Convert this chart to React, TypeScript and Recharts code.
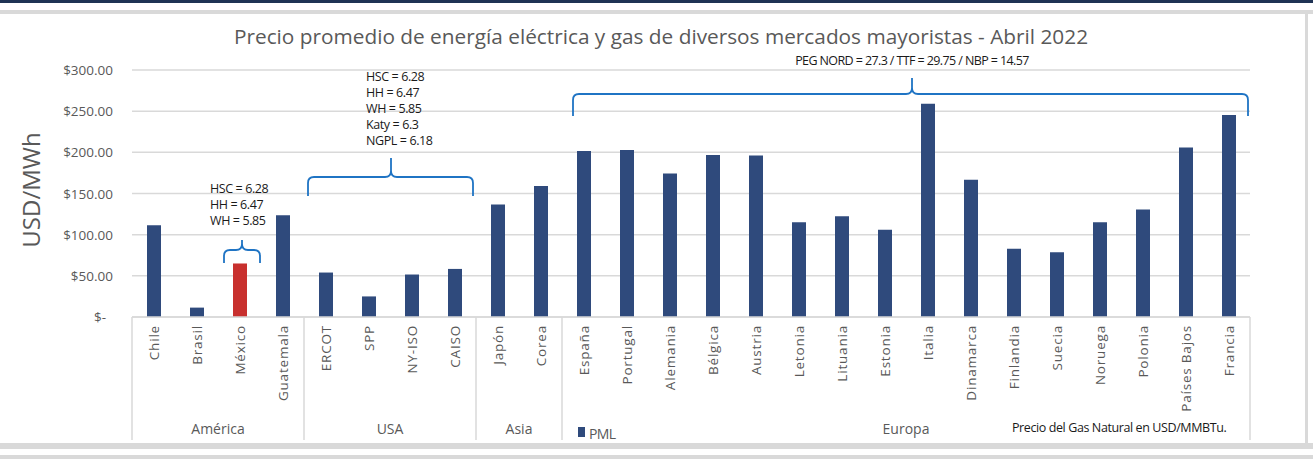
import { BarChart, Bar, XAxis, YAxis, CartesianGrid, Cell } from "recharts";

const CATEGORIES = [
  "Chile", "Brasil", "México", "Guatemala",
  "ERCOT", "SPP", "NY-ISO", "CAISO",
  "Japón", "Corea",
  "España", "Portugal", "Alemania", "Bélgica", "Austria", "Letonia", "Lituania", "Estonia",
  "Italia", "Dinamarca", "Finlandia", "Suecia", "Noruega", "Polonia", "Países Bajos", "Francia",
];
const GROUP_NAMES = ["América", "USA", "Asia", "Europa"];
const GROUP_SIZES = [4, 4, 2, 16];
const PML = [
  111.5, 11.4, 65, 123.7,
  54, 25, 51.6, 58.4,
  136.7, 159,
  201.6, 202.8, 174.4, 196.7, 196.3, 115, 122.5, 106,
  259, 166.7, 83, 78.7, 115, 130.6, 206, 245.4,
];
const Y_TICKS = [0, 50, 100, 150, 200, 250, 300];
const HIGHLIGHT = "México";

const MEXICO_GAS = ["HSC = 6.28", "HH = 6.47", "WH = 5.85"];
const USA_GAS = ["HSC = 6.28", "HH = 6.47", "WH = 5.85", "Katy = 6.3", "NGPL = 6.18"];
const EUROPE_GAS = "PEG NORD = 27.3 / TTF = 29.75 / NBP = 14.57";

const NAVY = "#2f4a7c";
const RED = "#c8302e";
const GREY = "#595959";
const LINE = "#d9d9d9";
const BRACE = "#1f74c4";
const FONT = "'Open Sans', sans-serif";

const W = 1313;
const H = 459;
const PLOT_L = 132;
const PLOT_R = 1250;
const PLOT_T = 70;
const X_AXIS_H = 142;
const PLOT_B = H - X_AXIS_H;
const BW = (PLOT_R - PLOT_L) / CATEGORIES.length;

const data = CATEGORIES.map((name, i) => ({ name, pml: PML[i] }));

// first index of every group
const groupStarts: number[] = [];
GROUP_SIZES.reduce((acc, n) => {
  groupStarts.push(acc);
  return acc + n;
}, 0);

const catX = (i: number) => PLOT_L + (i + 0.5) * BW;

function YTick(props: any) {
  const { y, payload } = props;
  const v = payload.value as number;
  const label = v === 0 ? "$-" : `$${v.toFixed(2)}`;
  return (
    <text
      x={PLOT_L - 19 - (v === 0 ? 7 : 0)}
      y={y}
      textAnchor="end"
      dominantBaseline="central"
      fontSize={13.5}
      fill={GREY}
      fontFamily={FONT}
    >
      {label}
    </text>
  );
}

function XTick(props: any) {
  const { x, payload } = props;
  const i = payload.index as number;
  const g = groupStarts.indexOf(i);
  const last = i === CATEGORIES.length - 1;
  return (
    <g>
      <text
        transform={`translate(${x},${PLOT_B + 8}) rotate(-90)`}
        textAnchor="end"
        dominantBaseline="central"
        fontSize={13.5}
        letterSpacing={0.8}
        fill={GREY}
        fontFamily={FONT}
      >
        {payload.value}
      </text>
      {g >= 0 && (
        <>
          <line x1={x - BW / 2} x2={x - BW / 2} y1={PLOT_B} y2={440} stroke={LINE} strokeWidth={1.5} />
          <text
            x={x - BW / 2 + (GROUP_SIZES[g] * BW) / 2}
            y={428}
            textAnchor="middle"
            dominantBaseline="central"
            fontSize={14}
            fill={GREY}
            fontFamily={FONT}
          >
            {GROUP_NAMES[g]}
          </text>
        </>
      )}
      {last && <line x1={x + BW / 2} x2={x + BW / 2} y1={PLOT_B} y2={440} stroke={LINE} strokeWidth={1.5} />}
    </g>
  );
}

function bracePath(x1: number, x2: number, mid: number, yTop: number, yH: number, yEnd: number) {
  const r = Math.min(6, yEnd - yH, yH - yTop);
  return (
    `M${x1},${yEnd} L${x1},${yH + r} Q${x1},${yH} ${x1 + r},${yH} L${mid - r},${yH} ` +
    `Q${mid},${yH} ${mid},${yH - r} L${mid},${yTop} M${mid},${yH - r} Q${mid},${yH} ${mid + r},${yH} ` +
    `L${x2 - r},${yH} Q${x2},${yH} ${x2},${yH + r} L${x2},${yEnd}`
  );
}

function Annotations() {
  const note = { fontSize: 12.5, fill: "#1a1a1a", fontFamily: FONT, letterSpacing: -0.4 };
  const mx = catX(2);
  return (
    <svg width={W} height={H} style={{ position: "absolute", left: 0, top: 0, pointerEvents: "none" }}>
      <text x={661} y={44} textAnchor="middle" fontSize={20.8} fill={GREY} fontFamily={FONT}>
        Precio promedio de energía eléctrica y gas de diversos mercados mayoristas - Abril 2022
      </text>
      <text
        transform="translate(30,190) rotate(-90)"
        textAnchor="middle"
        dominantBaseline="central"
        fontSize={24}
        fill={GREY}
        fontFamily={FONT}
      >
        USD/MWh
      </text>

      {MEXICO_GAS.map((t, k) => (
        <text key={t} x={210} y={188 + k * 16.4} dominantBaseline="central" {...note}>
          {t}
        </text>
      ))}
      <path d={bracePath(mx - 15.5, mx + 20.5, mx + 2.5, 240, 250, 263)} stroke={BRACE} strokeWidth={1.8} fill="none" />

      {USA_GAS.map((t, k) => (
        <text key={t} x={366} y={76 + k * 16.2} dominantBaseline="central" {...note}>
          {t}
        </text>
      ))}
      <path d={bracePath(catX(4) - 17.5, catX(7) + 18.5, 391, 158, 177, 196)} stroke={BRACE} strokeWidth={1.8} fill="none" />

      <text x={912} y={60} textAnchor="middle" dominantBaseline="central" {...note} letterSpacing={-0.6}>
        {EUROPE_GAS}
      </text>
      <path d={bracePath(catX(10) - 10.5, PLOT_R - 2, 912, 78, 94, 116)} stroke={BRACE} strokeWidth={1.8} fill="none" />

      <rect x={578} y={427} width={7} height={10} fill={NAVY} />
      <text x={589} y={433} dominantBaseline="central" fontSize={14} fill={GREY} fontFamily={FONT} letterSpacing={-0.6}>
        PML
      </text>
      <text x={1012} y={427} dominantBaseline="central" {...note}>
        Precio del Gas Natural en USD/MMBTu.
      </text>
    </svg>
  );
}

export default function App() {
  return (
    <div style={{ position: "absolute", left: 0, top: 0, width: W, height: H, background: "#fff", overflow: "hidden" }}>
      <div style={{ position: "absolute", left: 0, top: 0, width: W, height: 3, background: "#1f3354" }} />
      <div style={{ position: "absolute", left: 0, top: 10, width: W, height: 4, background: LINE }} />
      <div style={{ position: "absolute", left: 1305, top: 14, width: 3, height: 430, background: LINE }} />
      <div style={{ position: "absolute", left: 0, top: 443, width: W, height: 6, background: LINE }} />
      <div style={{ position: "absolute", left: 0, top: 455, width: W, height: 4, background: LINE }} />
      <BarChart
        width={W}
        height={H}
        data={data}
        margin={{ top: PLOT_T, right: W - PLOT_R, bottom: 0, left: 0 }}
        style={{ position: "absolute", left: 0, top: 0 }}
      >
        <CartesianGrid vertical={false} stroke={LINE} strokeWidth={1.5} />
        <XAxis
          dataKey="name"
          interval={0}
          height={X_AXIS_H}
          tickLine={false}
          axisLine={{ stroke: LINE, strokeWidth: 1.5 }}
          tick={<XTick />}
        />
        <YAxis
          width={PLOT_L}
          domain={[0, 300]}
          ticks={Y_TICKS}
          axisLine={false}
          tickLine={false}
          tick={<YTick />}
        />
        <Bar dataKey="pml" barSize={14} fill={NAVY} isAnimationActive={false}>
          {data.map((d) => (
            <Cell key={d.name} fill={d.name === HIGHLIGHT ? RED : NAVY} />
          ))}
        </Bar>
      </BarChart>
      <Annotations />
    </div>
  );
}
